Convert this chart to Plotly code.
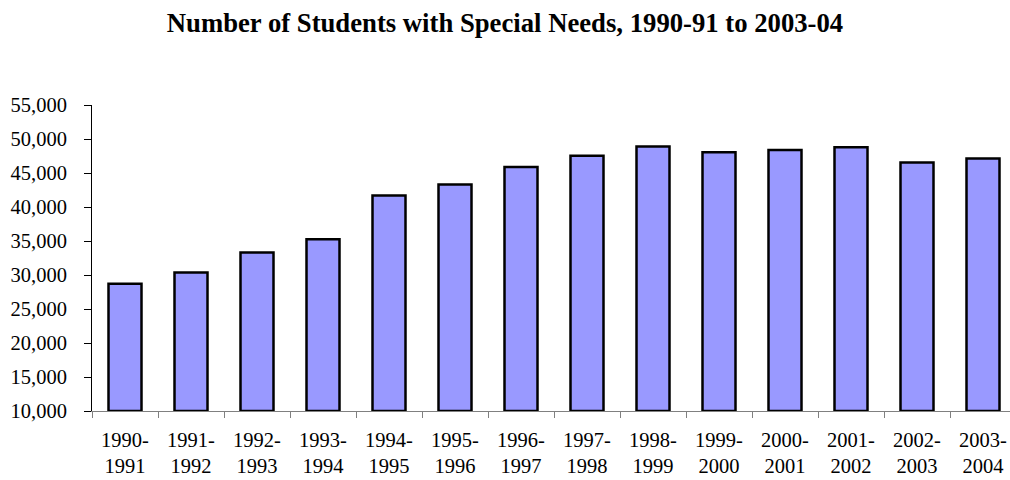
import plotly.graph_objects as go

categories = ["1990-<br>1991", "1991-<br>1992", "1992-<br>1993", "1993-<br>1994",
              "1994-<br>1995", "1995-<br>1996", "1996-<br>1997", "1997-<br>1998",
              "1998-<br>1999", "1999-<br>2000", "2000-<br>2001", "2001-<br>2002",
              "2002-<br>2003", "2003-<br>2004"]
students = [28700, 30350, 33300, 35250, 41700, 43300, 45900, 47550,
            48900, 48050, 48400, 48800, 46550, 47150]
y_tickvals = [10000, 15000, 20000, 25000, 30000, 35000, 40000, 45000, 50000, 55000]
y_ticktext = ["10,000", "15,000", "20,000", "25,000", "30,000", "35,000",
              "40,000", "45,000", "50,000", "55,000"]

BASE = 10000
FONT = "Liberation Serif, Times New Roman, serif"

fig = go.Figure(go.Bar(
    x=categories,
    y=[v - BASE for v in students],
    base=BASE,
    marker=dict(color="#9999FF", line=dict(color="black", width=2.5)),
    customdata=students,
    hovertemplate="%{x}: %{customdata:,}<extra></extra>",
))

fig.update_layout(
    width=1010, height=480,
    margin=dict(l=92, r=0, t=105, b=69),
    paper_bgcolor="white", plot_bgcolor="white",
    bargap=0.5,
    showlegend=False,
    font=dict(family=FONT, color="black", size=20),
    title=dict(
        text="<b>Number of Students with Special Needs, 1990-91 to 2003-04</b>",
        x=0.5, xref="container", xanchor="center",
        y=1 - 23 / 480, yref="container", yanchor="middle",
        font=dict(family=FONT, size=26.7, color="black"),
    ),
)

fig.update_xaxes(
    type="category",
    range=[-0.5, -0.5 + 918 / 66],
    showline=True, linecolor="#808080", linewidth=1,
    ticks="outside", tickson="boundaries", ticklen=6, tickcolor="#808080",
    showgrid=False, zeroline=False,
    tickfont=dict(family=FONT, size=20.5, color="black"),
    ticklabelstandoff=10,
)

fig.update_yaxes(
    range=[10000, 55000],
    tickvals=y_tickvals, ticktext=y_ticktext,
    showline=True, linecolor="black", linewidth=1,
    ticks="outside", ticklen=7, tickcolor="black",
    showgrid=False, zeroline=False,
    tickfont=dict(family=FONT, size=20.5, color="black"),
    ticklabelstandoff=13,
)

fig.write_html("out.html")
